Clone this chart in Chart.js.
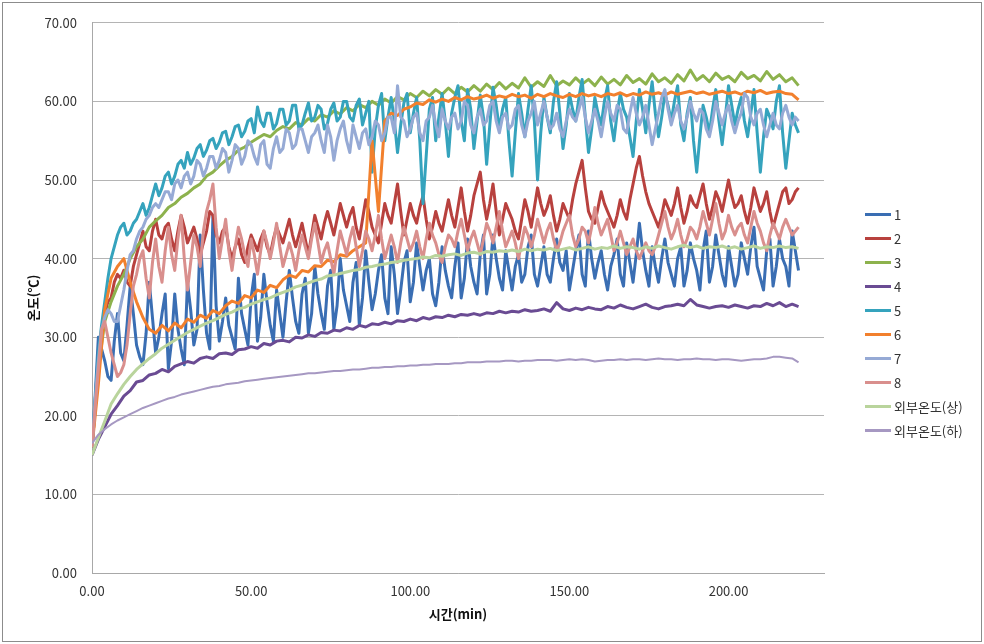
<!DOCTYPE html>
<html>
<head>
<meta charset="utf-8">
<script src="https://cdn.jsdelivr.net/npm/chart.js@4.4.1/dist/chart.umd.min.js"></script>
<style>
  body { margin: 0; background: #fff; }
  #wrap { position: relative; width: 984px; height: 644px; }
  #legend { position: absolute; left: 865px; top: 202px; font: 13px 'Noto Sans CJK KR', 'Noto Sans', sans-serif; color: #333; }
  .item { height: 24px; display: flex; align-items: center; white-space: nowrap; }
  .item i { display: inline-block; width: 26px; height: 3px; margin-right: 3px; }
</style>
</head>
<body>
<div id="wrap">
  <canvas id="chart" width="984" height="644"></canvas>
  <div id="legend"></div>
</div>
<script>
// time axes (min): every minute for the noisy sensors, every 2 min for the smoother ones
const timeFine = [
  0,1,2,3,4,5,6,7,8,9, 10,11,12,13,14,15,16,17,18,19,
  20,21,22,23,24,25,26,27,28,29, 30,31,32,33,34,35,36,37,38,39,
  40,41,42,43,44,45,46,47,48,49, 50,51,52,53,54,55,56,57,58,59,
  60,61,62,63,64,65,66,67,68,69, 70,71,72,73,74,75,76,77,78,79,
  80,81,82,83,84,85,86,87,88,89, 90,91,92,93,94,95,96,97,98,99,
  100,101,102,103,104,105,106,107,108,109, 110,111,112,113,114,115,116,117,118,119,
  120,121,122,123,124,125,126,127,128,129, 130,131,132,133,134,135,136,137,138,139,
  140,141,142,143,144,145,146,147,148,149, 150,151,152,153,154,155,156,157,158,159,
  160,161,162,163,164,165,166,167,168,169, 170,171,172,173,174,175,176,177,178,179,
  180,181,182,183,184,185,186,187,188,189, 190,191,192,193,194,195,196,197,198,199,
  200,201,202,203,204,205,206,207,208,209, 210,211,212,213,214,215,216,217,218,219,
  220,221,222
];
const timeCoarse = [
  0,2,4,6,8,10,12,14,16,18, 20,22,24,26,28,30,32,34,36,38,
  40,42,44,46,48,50,52,54,56,58, 60,62,64,66,68,70,72,74,76,78,
  80,82,84,86,88,90,92,94,96,98, 100,102,104,106,108,110,112,114,116,118,
  120,122,124,126,128,130,132,134,136,138, 140,142,144,146,148,150,152,154,156,158,
  160,162,164,166,168,170,172,174,176,178, 180,182,184,186,188,190,192,194,196,198,
  200,202,204,206,208,210,212,214,216,218, 220,222
];
const xTicks = [0, 50, 100, 150, 200];

// temperatures (°C), 1-min series
const sensor1 = [
  16.0,22.5,30.0,28.5,27.0,25.0,24.5,29.5,33.0,28.0,
  27.0,31.5,36.5,33.0,29.0,27.5,26.5,30.5,37.0,32.5,
  28.0,30.0,33.0,35.5,26.0,29.5,35.5,31.0,28.5,26.5,
  37.0,33.5,29.0,31.0,43.0,36.0,30.5,28.5,45.5,34.0,
  29.5,32.0,35.0,31.5,30.0,28.5,37.5,33.0,31.0,29.0,
  35.0,38.0,29.5,32.5,38.0,34.5,31.5,29.5,36.0,33.0,
  30.0,34.5,38.5,35.0,32.0,30.5,35.5,37.5,30.5,33.0,
  39.0,35.5,33.0,31.0,36.5,38.5,31.0,34.0,40.0,36.0,
  34.0,32.0,37.0,39.5,31.5,35.0,41.0,37.0,33.5,35.5,
  38.5,40.5,35.0,33.0,41.5,38.0,33.0,36.0,39.5,41.0,
  34.5,37.0,42.0,39.0,36.0,38.5,40.0,35.5,34.0,37.0,
  41.5,38.5,36.5,35.0,39.0,42.0,35.0,37.5,42.5,39.0,
  37.0,35.5,40.5,43.0,35.5,38.0,43.0,40.0,37.5,36.0,
  41.0,38.5,36.0,39.0,40.5,37.0,38.0,41.5,43.0,38.0,
  36.5,39.0,41.5,38.0,37.0,40.0,42.5,39.5,38.5,41.0,
  36.0,38.5,41.0,43.0,38.0,36.5,43.5,40.0,37.5,39.5,
  41.0,38.0,36.0,39.0,40.5,42.5,38.0,36.5,42.0,39.5,
  37.0,40.5,44.5,41.0,38.5,36.5,41.5,39.0,37.0,40.0,
  42.5,39.5,38.0,36.5,40.0,41.5,36.5,38.5,42.0,40.0,
  38.5,36.0,41.0,43.5,37.0,39.0,43.0,40.5,38.0,36.5,
  41.5,39.0,36.5,38.0,42.0,40.0,38.0,41.5,44.0,39.0,
  37.5,36.0,41.0,42.5,36.5,39.0,42.5,40.0,39.0,36.5,
  43.5,41.0,38.5
];
const sensor2 = [
  16.0,21.0,26.0,30.0,33.0,34.5,35.0,37.0,38.0,37.5,
  38.5,37.0,36.5,39.0,40.5,42.0,43.5,41.5,41.0,43.5,
  45.0,43.0,42.5,44.0,44.5,42.5,41.0,43.5,45.5,44.0,
  42.0,43.0,44.0,42.5,40.5,42.0,43.5,46.0,45.5,43.0,
  42.0,43.5,44.0,41.5,40.0,41.5,42.5,40.5,39.5,41.5,
  43.0,42.0,41.0,42.5,43.5,41.5,40.5,42.5,44.0,43.0,
  42.0,43.5,45.0,43.0,41.5,43.0,44.5,42.5,40.5,43.0,
  45.5,44.0,42.5,44.5,46.0,44.5,43.0,45.0,47.0,45.5,
  44.0,45.5,46.5,44.0,42.5,45.0,47.5,46.0,44.0,43.0,
  42.0,44.5,47.0,45.5,44.5,47.0,49.5,46.0,43.0,45.0,
  47.0,45.5,44.5,46.5,48.0,45.0,42.5,44.0,46.0,44.5,
  43.5,45.5,47.5,45.5,44.0,46.5,49.0,46.0,43.5,45.5,
  48.0,49.5,51.0,47.5,45.0,47.0,49.5,46.0,43.0,45.0,
  47.0,46.0,45.0,43.5,42.5,45.0,47.5,46.0,44.0,46.5,
  49.0,47.0,45.5,46.5,48.0,45.5,43.5,45.0,47.0,46.0,
  45.0,47.5,49.5,51.0,52.5,49.0,46.0,45.0,44.5,46.5,
  48.5,47.0,46.0,45.0,44.0,45.5,47.5,46.0,45.0,47.5,
  49.5,51.5,53.0,50.5,48.5,47.0,46.0,45.0,44.0,45.5,
  47.5,46.5,45.5,47.0,49.0,46.5,44.5,46.0,48.0,47.0,
  46.5,48.0,49.5,47.0,45.0,46.5,48.5,47.5,46.0,48.0,
  50.0,48.0,46.5,47.0,48.0,46.0,44.5,46.5,49.0,47.5,
  46.0,47.0,48.5,46.0,44.0,45.5,47.0,48.5,49.0,47.0,
  47.5,48.5,49.0
];
const sensor5 = [
  16.0,22.0,28.0,31.5,34.5,37.5,40.0,41.5,43.0,44.0,
  44.5,43.0,43.5,44.5,45.0,46.0,47.0,45.5,46.5,48.0,
  49.5,48.0,49.0,50.5,51.0,49.5,50.5,52.0,52.5,51.5,
  53.5,52.0,52.8,54.0,54.5,53.0,53.8,55.0,55.3,54.0,
  54.8,56.0,56.2,54.5,55.5,56.8,57.0,55.5,56.2,57.5,
  57.8,56.0,59.3,57.5,56.8,58.5,58.5,56.5,57.2,59.0,
  59.0,57.0,57.5,59.5,59.5,56.5,57.0,58.5,59.8,57.5,
  58.0,59.5,59.0,56.5,57.2,59.0,59.8,57.5,58.0,60.0,
  60.0,58.0,57.5,59.5,60.3,57.0,58.5,60.0,51.0,56.5,
  59.5,61.0,55.0,58.0,60.5,57.5,53.5,57.0,59.8,61.0,
  56.0,58.5,60.5,55.0,47.0,53.0,59.0,60.5,55.0,58.0,
  61.0,57.5,53.0,58.5,60.5,62.0,57.5,55.0,61.5,59.0,
  54.0,57.5,60.8,58.0,52.0,57.0,61.8,59.5,56.5,59.0,
  60.5,55.0,50.5,56.0,61.0,58.5,55.5,59.0,62.0,57.5,
  50.0,56.0,60.5,58.0,56.0,60.0,62.5,58.5,54.0,57.0,
  61.0,59.0,57.5,60.5,62.8,58.0,53.5,56.5,60.5,58.5,
  57.0,60.0,62.0,57.5,55.0,58.5,61.0,59.0,58.0,55.5,
  53.0,57.5,61.5,59.0,56.0,59.5,62.5,58.5,55.5,58.0,
  61.0,59.5,57.5,60.0,62.0,57.0,55.0,58.5,60.5,55.0,
  51.0,55.5,59.5,58.0,56.0,59.0,61.5,57.5,54.5,58.0,
  62.0,59.5,57.0,59.0,60.5,57.5,55.5,58.5,61.5,56.0,
  51.0,55.5,59.0,58.0,56.5,60.0,62.0,56.0,51.5,55.0,
  58.5,57.0,56.0
];
const sensor7 = [
  16.0,22.0,27.0,31.0,32.5,33.5,33.0,32.0,32.0,34.0,
  36.0,38.5,40.5,41.0,42.5,43.5,44.0,45.0,45.5,46.5,
  47.0,46.5,47.5,48.5,48.5,47.5,49.5,50.0,49.0,50.5,
  51.0,49.5,50.5,52.5,52.0,50.5,51.5,53.0,53.0,51.5,
  52.5,54.0,53.5,51.0,52.5,54.5,54.0,52.0,53.0,55.0,
  54.5,53.0,52.0,54.5,55.0,52.0,51.5,54.0,55.5,53.5,
  54.0,56.5,56.0,54.0,54.5,56.5,56.5,55.0,53.5,55.5,
  56.0,57.0,55.0,53.5,57.0,55.5,52.5,55.0,56.5,57.5,
  55.0,53.5,57.0,55.5,54.0,56.0,56.5,54.5,55.5,57.5,
  57.0,55.0,56.0,58.0,58.0,56.0,62.0,58.0,57.5,55.5,
  56.5,58.0,58.5,56.0,55.0,57.5,58.0,59.5,57.0,55.5,
  59.0,57.5,56.5,58.0,58.5,56.5,57.5,60.0,59.5,57.0,
  56.0,58.0,59.0,57.0,57.5,59.5,60.0,57.5,56.0,58.0,
  58.5,56.5,57.0,59.0,59.5,57.0,55.5,57.5,58.5,60.0,
  57.0,58.5,60.0,58.0,56.5,57.0,58.5,56.5,55.5,57.5,
  59.0,58.0,57.5,59.0,60.5,58.0,56.0,57.5,59.0,57.5,
  55.5,58.0,60.0,58.5,57.5,59.5,59.0,56.5,56.0,58.5,
  60.5,58.5,57.0,58.0,59.5,57.0,54.5,56.5,58.5,60.5,
  61.5,59.0,57.0,58.5,59.5,57.5,56.5,58.0,60.0,58.5,
  57.5,59.0,58.5,56.5,55.5,57.5,60.0,58.5,57.0,58.5,
  59.5,57.5,56.0,57.5,58.5,61.0,60.5,58.0,57.0,58.5,
  59.0,57.0,55.5,57.0,58.5,57.0,56.5,58.5,59.5,58.0,
  57.0,58.0,57.5
];
const sensor8 = [
  16.0,21.0,26.0,31.0,32.0,30.0,28.0,26.5,25.0,25.5,
  26.5,29.0,33.0,36.5,38.0,40.0,41.0,37.5,35.0,39.5,
  42.5,39.0,37.0,41.0,44.0,40.5,38.5,42.5,45.5,40.0,
  36.0,39.5,43.0,41.5,39.0,43.5,46.0,47.5,49.5,44.0,
  40.0,42.5,45.0,41.0,38.5,41.5,44.0,42.5,40.5,39.0,
  42.5,40.5,38.0,41.0,43.5,42.0,40.0,42.0,44.5,41.5,
  39.0,40.5,42.0,40.5,38.5,41.0,43.0,41.5,40.0,42.5,
  44.5,42.0,39.5,41.0,42.0,40.0,38.0,41.0,43.5,42.0,
  40.5,42.5,44.0,41.5,39.0,41.0,43.5,42.5,41.0,43.0,
  45.5,42.5,40.0,41.5,43.0,41.5,39.5,42.0,44.0,42.5,
  41.0,42.0,43.5,41.5,40.0,42.5,44.5,43.0,42.0,40.5,
  39.5,41.5,43.0,42.5,41.5,43.5,45.0,43.0,41.0,42.5,
  43.5,42.0,40.5,42.5,44.5,43.5,42.0,44.0,46.0,43.5,
  41.5,42.5,43.5,42.0,40.0,42.0,44.0,43.0,41.5,43.0,
  45.0,43.5,42.0,43.5,44.5,42.5,41.0,42.0,43.5,44.5,
  45.5,43.0,41.5,42.5,44.0,43.5,42.0,44.0,46.5,44.5,
  43.0,44.0,45.0,43.0,41.0,42.0,43.5,42.0,40.5,41.5,
  42.5,41.0,40.0,41.0,42.0,41.0,40.5,41.5,43.0,44.5,
  46.0,44.0,42.5,43.5,45.0,43.0,41.5,42.5,44.0,43.5,
  42.5,44.0,46.0,44.5,43.0,45.0,47.0,44.5,42.5,43.5,
  45.5,44.0,43.0,44.0,44.5,43.0,42.0,44.0,46.0,44.5,
  43.5,42.0,41.0,43.0,44.5,43.5,42.5,44.0,45.0,44.0,
  43.0,43.5,44.0
];

// temperatures (°C), 2-min series
const sensor3 = [
  16.0,26.0,32.0,34.5,36.5,38.0,40.0,41.5,42.5,44.0,
  44.8,45.5,46.5,47.0,47.8,48.3,49.0,49.5,50.5,51.0,
  51.8,52.5,53.0,53.8,54.2,54.8,55.3,55.8,55.5,56.3,
  56.8,56.5,57.3,57.0,57.8,57.5,58.3,58.0,58.8,58.4,
  59.2,58.8,59.6,59.2,60.0,59.5,60.3,59.8,60.6,60.2,
  61.0,60.5,61.3,60.7,61.5,60.9,61.7,61.0,61.8,61.2,
  62.0,61.3,62.2,61.5,62.4,61.6,62.3,61.7,63.0,61.8,
  62.5,61.9,63.3,62.0,62.6,62.1,63.0,62.2,62.8,62.0,
  63.1,62.2,62.8,62.1,63.3,62.4,62.9,62.2,63.5,62.5,
  63.0,62.3,63.4,62.6,64.0,62.7,63.3,62.5,63.6,62.8,
  63.2,62.5,63.7,62.9,63.3,62.6,63.8,62.8,63.4,62.5,
  63.0,62.0
];
const sensor4 = [
  15.0,17.0,18.6,20.2,21.3,22.5,23.2,24.3,24.5,25.2,
  25.4,25.9,25.6,26.3,26.6,26.9,26.7,27.3,27.5,27.3,
  27.9,28.0,27.8,28.4,28.5,28.8,28.6,29.2,29.0,29.5,
  29.6,29.4,30.0,29.9,30.3,30.1,30.6,30.5,30.9,30.8,
  31.2,31.0,31.5,31.3,31.7,31.6,31.9,31.7,32.1,32.0,
  32.3,32.1,32.5,32.3,32.6,32.5,32.8,32.6,32.9,32.8,
  33.0,32.8,33.1,33.0,33.3,33.1,33.3,33.2,33.5,33.3,
  33.4,33.6,33.3,34.4,33.6,33.4,33.7,33.5,33.8,33.6,
  33.5,33.9,33.7,34.1,33.8,33.6,33.9,34.2,33.8,33.6,
  33.9,34.0,34.2,34.0,34.8,34.1,33.9,33.7,33.9,34.0,
  33.8,34.1,33.9,33.7,34.0,33.9,34.3,34.0,34.4,33.9,
  34.2,33.9
];
const sensor6 = [
  16.0,24.0,33.5,37.5,39.0,40.0,37.0,34.5,32.5,31.0,
  30.5,31.5,30.8,31.8,31.2,32.3,31.9,32.8,32.4,33.4,
  33.0,34.0,34.6,34.3,35.3,35.0,36.0,35.7,36.6,36.3,
  37.3,37.9,37.6,38.5,38.3,39.1,39.0,39.8,39.6,40.5,
  40.3,41.0,41.5,42.0,55.0,46.0,57.5,58.5,58.2,59.0,
  59.3,59.8,59.6,60.2,59.9,60.3,60.0,60.5,60.2,60.6,
  60.3,60.5,60.8,60.4,60.7,60.5,60.9,60.6,60.8,60.4,
  60.9,60.6,61.0,60.7,60.5,60.9,60.6,61.0,60.7,60.9,
  60.6,61.0,60.8,61.1,60.7,61.0,60.8,61.2,60.9,61.1,
  60.8,61.2,60.9,61.1,61.3,61.0,61.2,60.9,61.1,61.3,
  61.0,61.2,60.9,61.3,61.1,61.4,61.0,61.2,61.3,61.0,
  60.9,60.2
];
const outsideUpper = [
  15.0,17.2,19.3,21.5,22.8,24.0,25.0,25.9,26.6,27.3,
  27.9,28.6,29.1,29.6,30.1,30.6,31.0,31.4,31.8,32.1,
  32.5,32.9,33.2,33.6,33.8,34.2,34.5,34.8,35.0,35.4,
  35.7,36.0,36.4,36.6,36.9,37.2,37.4,37.8,37.9,38.1,
  38.3,38.5,38.6,38.9,39.0,39.2,39.3,39.5,39.6,39.8,
  39.9,40.0,40.2,40.1,40.4,40.3,40.5,40.6,40.4,40.7,
  40.8,40.6,40.9,40.8,41.0,40.9,41.1,40.9,41.2,41.0,
  41.2,41.1,41.3,41.0,41.2,41.4,41.1,41.3,41.5,41.2,
  41.4,41.3,41.6,41.3,41.5,41.4,41.2,41.5,41.3,41.6,
  41.4,41.2,41.5,41.7,41.4,41.6,41.3,41.5,41.4,41.6,
  41.3,41.5,41.2,41.4,41.6,41.3,41.5,41.4,41.6,41.4,
  41.5,41.3
];
const outsideLower = [
  16.5,17.6,18.3,18.9,19.4,19.8,20.2,20.6,21.0,21.3,
  21.6,21.9,22.2,22.4,22.7,22.9,23.1,23.3,23.5,23.7,
  23.8,24.0,24.1,24.2,24.4,24.5,24.6,24.7,24.8,24.9,
  25.0,25.1,25.2,25.3,25.4,25.4,25.5,25.6,25.7,25.7,
  25.8,25.9,25.9,26.0,26.1,26.1,26.2,26.2,26.3,26.3,
  26.4,26.4,26.5,26.5,26.6,26.6,26.6,26.7,26.7,26.8,
  26.8,26.8,26.9,26.9,26.9,27.0,27.0,26.9,27.0,27.0,
  27.1,27.1,27.1,27.0,27.1,27.2,27.1,27.2,27.1,26.9,
  27.0,27.1,27.1,27.2,27.1,27.2,27.2,27.1,27.2,27.3,
  27.2,27.2,27.1,27.2,27.2,27.3,27.2,27.2,27.1,27.2,
  27.2,27.1,27.0,27.1,27.2,27.2,27.3,27.5,27.5,27.4,
  27.3,26.8
];

const seriesNames = ['1','2','3','4','5','6','7','8','외부온도(상)','외부온도(하)'];
const seriesValues = [sensor1, sensor2, sensor3, sensor4, sensor5, sensor6, sensor7, sensor8, outsideUpper, outsideLower];
const seriesTimes = [timeFine, timeFine, timeCoarse, timeCoarse, timeFine, timeCoarse, timeFine, timeFine, timeCoarse, timeCoarse];
const seriesColors = ['#3a6eb3','#b8413e','#8db24d','#6a4b93','#35a3bd','#f2802d','#96aad5','#d98f8d','#b9d49c','#a698c2'];

const FONT = "'Noto Sans CJK KR', 'Noto Sans', sans-serif";
Chart.defaults.font.family = FONT;
Chart.defaults.font.size = 13;
Chart.defaults.color = '#333';

const datasets = seriesNames.map((name, i) => ({
  label: name,
  data: seriesTimes[i].map((t, j) => ({ x: t, y: seriesValues[i][j] })),
  borderColor: seriesColors[i],
  backgroundColor: seriesColors[i],
  borderWidth: i === 9 ? 2 : 3,
  pointRadius: 0,
  tension: 0,
  fill: false,
  borderJoinStyle: 'round',
  order: seriesNames.length - i   // later series on top, like Excel
}));

const frame = {
  id: 'frame',
  beforeDraw(chart){
    const c = chart.ctx;
    c.save(); c.fillStyle = '#fff'; c.fillRect(0, 0, chart.width, chart.height); c.restore();
  },
  afterDraw(chart){
    const c = chart.ctx;
    c.save(); c.strokeStyle = '#8c8c8c'; c.lineWidth = 1;
    c.strokeRect(2.5, 2.5, chart.width - 5, chart.height - 5);
    c.restore();
  }
};

new Chart(document.getElementById('chart'), {
  type: 'line',
  data: { datasets },
  plugins: [frame],
  options: {
    responsive: false,
    animation: false,
    layout: { padding: { left: 0, right: 160, top: 17, bottom: 0 } },
    plugins: { legend: { display: false }, tooltip: { enabled: false } },
    scales: {
      x: {
        type: 'linear', min: 0, max: 230,
        afterBuildTicks: s => { s.ticks = xTicks.map(v => ({ value: v })); },
        afterFit: s => { s.height = 71; },
        grid: { display: false, drawTicks: false },
        border: { display: true, color: '#a8a8a8' },
        ticks: { padding: 10, autoSkip: false, maxRotation: 0, callback: v => Number(v).toFixed(2) },
        title: { display: true, text: '시간(min)', color: '#111', font: { size: 13, weight: 'bold' }, padding: { top: 0, bottom: 22 } }
      },
      y: {
        min: 0, max: 70,
        afterFit: s => { s.width = 92; },
        grid: { color: '#b4b4b4', drawTicks: false },
        border: { display: true, color: '#a8a8a8' },
        ticks: { stepSize: 10, padding: 15, callback: v => Number(v).toFixed(2) },
        title: { display: true, text: '온도(℃)', color: '#111', font: { size: 13, weight: 'bold' }, padding: { top: 25, bottom: 0 } }
      }
    }
  }
});

// legend
const lg = document.getElementById('legend');
seriesNames.forEach((name, i) => {
  const row = document.createElement('div');
  row.className = 'item';
  row.innerHTML = `<i style="background:${seriesColors[i]}"></i><span>${name}</span>`;
  lg.appendChild(row);
});

// sanity check on hand-typed arrays
seriesValues.forEach((s, i) => {
  if (s.length !== seriesTimes[i].length) throw new Error(`series ${seriesNames[i]}: ${s.length} values for ${seriesTimes[i].length} times`);
});
</script>
</body>
</html>
